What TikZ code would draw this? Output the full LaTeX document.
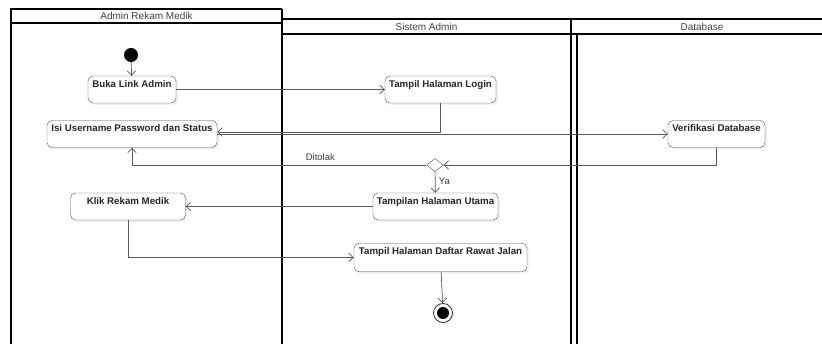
\documentclass[tikz,border=0pt]{standalone}
\usepackage{fontspec}
\setmainfont{Liberation Sans}
\usetikzlibrary{arrows.meta,positioning,shapes.geometric,shadows}

\begin{document}
\begin{tikzpicture}[
  x=1pt, y=-1pt,
  font=\fontsize{9.5}{11}\selectfont,
  lane/.style={draw, line width=1.1pt},
  lanetitle/.style={text=black!75, inner sep=0pt, font=\fontsize{10}{12}\selectfont},
  act/.style={draw=black!70, rounded corners=5pt, fill=white, inner xsep=2pt,
    inner ysep=0pt, text height=11.5pt, text depth=15.5pt, text=black!85,
    font=\fontsize{9.7}{11}\selectfont\bfseries,
    drop shadow={opacity=0.12, shadow xshift=2pt, shadow yshift=-2pt}},
  choice/.style={diamond, draw=black!70, fill=white, inner sep=0pt,
    minimum width=17pt, minimum height=13pt},
  arrow/.style={-{Straight Barb[length=4.5pt, width=8.5pt]}, draw=black!65, line width=0.7pt},
  lbl/.style={text=black!75}
]
\useasboundingbox (0,0) rectangle (822,344);

\draw[lane] (11,344) -- (11,9) -- (282,9);
\draw[lane, line width=1.7pt] (282,9) -- (282,344);
\draw[lane] (11,23) -- (282,23);
\draw[lane] (282,19) -- (822,19);
\draw[lane] (282,34) -- (822,34);
\draw[lane] (571,19) -- (571,344);
\draw[lane] (577,34) -- (577,344);
\node[lanetitle] (admin) at (146.5,16) {Admin Rekam Medik};
\node[lanetitle] (sistem) at (426.5,26.5) {Sistem Admin};
\node[lanetitle] (db) at (702,26.5) {Database};

\node[circle, fill=black, minimum size=14pt, inner sep=0pt,
  drop shadow={opacity=0.12, shadow xshift=2pt, shadow yshift=-2pt}] (start) at (131,55) {};
\node[act, minimum width=88pt] (buka) at (132,89.5) {Buka Link Admin};
\node[act, minimum width=111pt] (login) at (440.5,89.5) {Tampil Halaman Login};
\node[act, minimum width=170pt] (isi) at (132,134) {Isi Username Password dan Status};
\node[act, minimum width=97pt] (verif) at (716.5,134) {Verifikasi Database};
\node[choice] (cek) at (435,165) {};
\node[act, minimum width=125pt] (utama) at (435.5,206.5) {Tampilan Halaman Utama};
\node[act, minimum width=115pt] (klik) at (128,206.5) {Klik Rekam Medik};
\node[act, minimum width=173pt, text depth=17pt] (daftar) at (440.5,257.5) {Tampil Halaman Daftar Rawat Jalan};
\node[circle, draw=black!80, line width=0.8pt, fill=white, minimum size=19pt, inner sep=0pt,
  drop shadow={opacity=0.12, shadow xshift=2pt, shadow yshift=-2pt}] (end) at (443,313) {};
\node[circle, fill=black, minimum size=12pt, inner sep=0pt] (endin) at (end) {};

\draw[arrow] (start) -- (buka);
\draw[arrow] (buka) -- (login);
\draw[arrow] (login.south) |- ([yshift=2pt]isi.east);
\draw[arrow] (isi) -- (verif);
\draw[arrow] (verif.south) |- (cek.east);
\draw[arrow] (cek.west) -| node[lbl, pos=0.18, above=1pt] {Ditolak} (isi.south);
\draw[arrow] (cek) -- node[lbl, right, pos=0.45] {Ya} (utama);
\draw[arrow] (utama) -- (klik);
\draw[arrow] (klik.south) |- (daftar.west);
\draw[arrow] (daftar) -- (end);
\end{tikzpicture}
\end{document}
